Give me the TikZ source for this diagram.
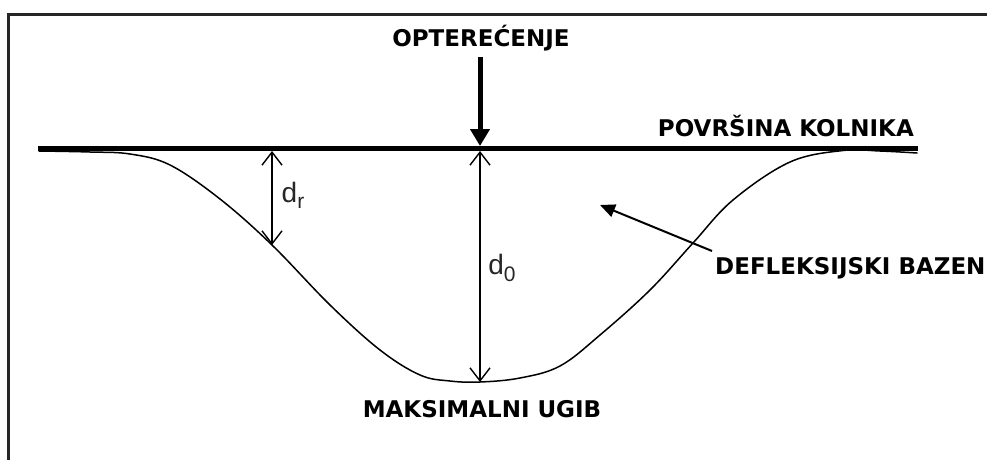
\documentclass[tikz,border=0pt]{standalone}
\usepackage{fontspec}
\setmainfont{DejaVu Sans}
\newfontfamily\arialf{Liberation Sans}
\usetikzlibrary{arrows.meta}
\begin{document}
\begin{tikzpicture}[x=1pt,y=-1pt,
  lbl/.style={font=\fontsize{23}{23}\selectfont\bfseries, text=black, inner sep=0pt},
  dim/.style={font=\arialf\fontsize{28}{28}\selectfont, text=black!85, inner sep=0pt},
  barb/.tip={Straight Barb[width=20pt 0 0,length=13pt 0 0,line width=1.4pt]},
  dimarrow/.style={line width=1.4pt, barb-barb},
  curve/.style={line width=1.5pt, line join=round, line cap=round},
]
\useasboundingbox (0,0) rectangle (987,460);
% frame
\draw[line width=2.2pt, black!85] (8.5,460) -- (8.5,14.5) -- (987,14.5);

% surface
\coordinate (s1) at (38,148);
\coordinate (s2) at (918,148);
\draw[line width=5pt] (s1) -- (s2);

% deflection basin
\draw[curve] plot[smooth, tension=0.6] coordinates {
 (39,151) (90,152) (130,154) (170,165) (220,199) (272,245) (330,305)
 (380,350) (420,375) (450,381) (480,382) (520,378) (560,366) (600,335)
 (650,290) (693,243) (733,200) (790,162) (843,150.5) (880,151) (917,153)};

% load
\node[lbl] (opt) at (481,38) {OPTEREĆENJE};
\coordinate (load) at (480,146);
\draw[line width=5pt, -{Triangle[width=19pt 0 0,length=17pt 0 0]}] ([yshift=-6pt]opt.south -| load) -- (load);

% labels
\node[lbl, anchor=east] (pov) at (914,126) {POVRŠINA KOLNIKA};
\node[lbl] (mak) at (482,409) {MAKSIMALNI UGIB};
\node[lbl, anchor=west] (def) at (715,268) {DEFLEKSIJSKI BAZEN};

% deflection basin pointer
\coordinate (deftail) at (712,251);
\coordinate (defhead) at (600,205);
\draw[line width=2pt, -{Triangle[width=13pt 0 0,length=15pt 0 0]}] (deftail) -- (defhead);

% d0
\coordinate (t0) at (480,151);
\coordinate (b0) at (480,382);
\draw[dimarrow] (t0) -- (b0);
\node[dim] (d0) at (502,268) {d\raisebox{-0.22em}{\fontsize{21}{21}\selectfont 0}};

% dr
\coordinate (tr) at (272,151);
\coordinate (br) at (272,245);
\draw[dimarrow] (tr) -- (br);
\node[dim] (dr) at (293,195) {d\raisebox{-0.22em}{\fontsize{21}{21}\selectfont r}};
\end{tikzpicture}
\end{document}
